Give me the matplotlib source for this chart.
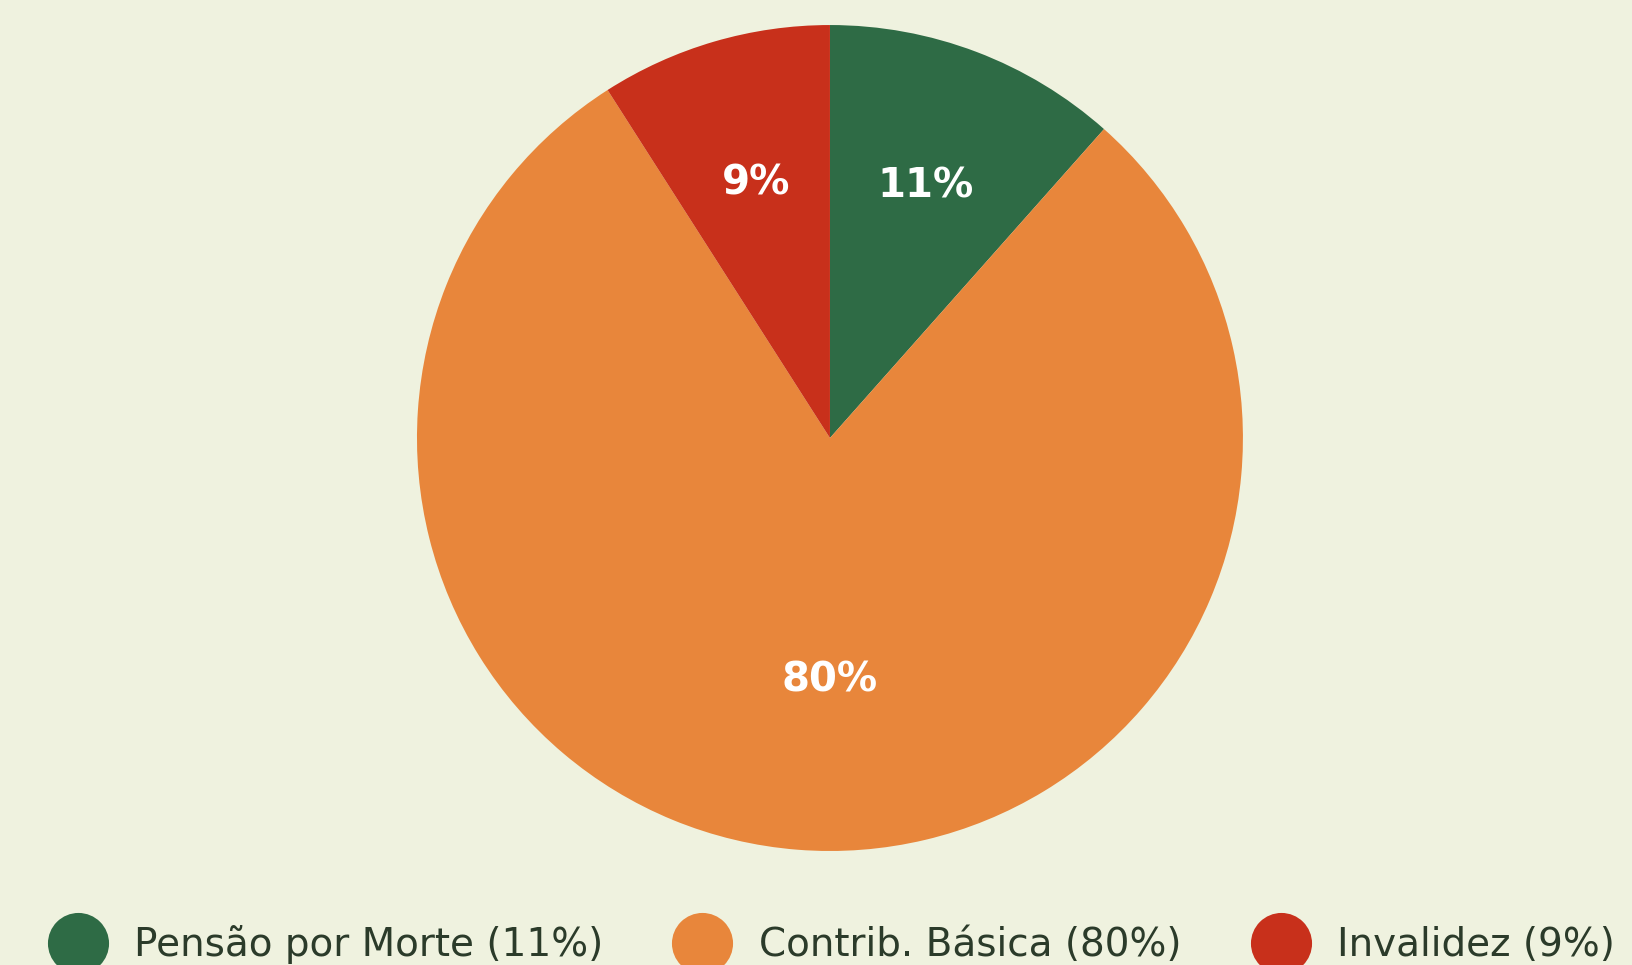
import numpy as np
import matplotlib.pyplot as plt
from matplotlib.lines import Line2D

# values, labels as printed on the chart
categories = ['Pensão por Morte', 'Contrib. Básica', 'Invalidez']
shares = [11.55, 79.4, 9.05]
pct_labels = ['11%', '80%', '9%']
colors = ['#2e6b45', '#e8863b', '#c8301b']
bg = '#eff2df'
text_col = '#2b3b2a'

plt.rcParams['font.family'] = ['DejaVu Sans']

fig = plt.figure(figsize=(16.32, 9.65), dpi=100, facecolor=bg)
ax = fig.add_axes([0.2555, 0.1181, 0.5061, 0.8560])
ax.set_facecolor(bg)

wedges, _ = ax.pie(shares, colors=colors, startangle=90, counterclock=False,
                   radius=1, wedgeprops={'linewidth': 0})

# label distance from centre, as fraction of radius
label_r = [0.652, 0.587, 0.642]
for w, lab, r in zip(wedges, pct_labels, label_r):
    mid = np.deg2rad((w.theta1 + w.theta2) / 2)
    if lab == '80%':
        mid = np.deg2rad(270)
    ax.text(r * np.cos(mid), r * np.sin(mid), lab, ha='center', va='center',
            color='white', fontsize=29, fontweight='bold')

ax.set_xlim(-1, 1)
ax.set_ylim(-1, 1)
ax.set_aspect('equal')
ax.axis('off')

handles = [Line2D([], [], marker='o', linestyle='none', markersize=44,
                  markerfacecolor=c, markeredgewidth=0) for c in colors]
leg_labels = [f'{c} ({p})' for c, p in zip(categories, pct_labels)]
fig.legend(handles, leg_labels, loc='center', bbox_to_anchor=(0.509, 0.021),
           ncol=3, frameon=False, fontsize=28, labelcolor=text_col,
           handlelength=1.6, handletextpad=0.65, columnspacing=1.75,
           borderaxespad=0, borderpad=0)

fig.savefig('out.png', dpi=100, facecolor=bg)
